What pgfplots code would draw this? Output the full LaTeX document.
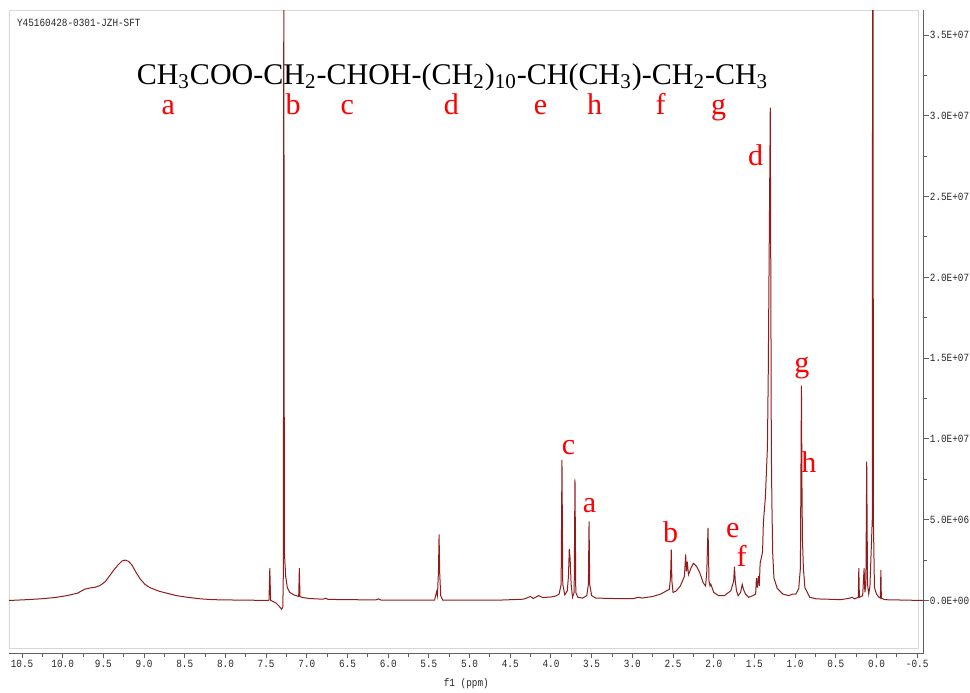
\documentclass[border=0pt]{standalone}
\usepackage{fontspec}
\setmainfont{Liberation Serif}
\newfontfamily\tickfont[FakeStretch=0.85]{Liberation Mono}
\usepackage{pgfplots}
\pgfplotsset{compat=1.18}

\definecolor{spec}{RGB}{145,28,28}
\definecolor{axgray}{RGB}{95,95,95}
\definecolor{framegray}{RGB}{215,215,215}

% 1H NMR trace, ppm vs intensity (in units of 1E+06)
\pgfplotstableread{
ppm    I
10.66  0.00
10.45  0.05
10.28  0.10
10.10  0.18
9.95   0.30
9.82   0.45
9.73   0.70
9.66   0.78
9.60   0.82
9.54   0.93
9.48   1.15
9.42   1.55
9.37   1.90
9.32   2.20
9.27   2.45
9.23   2.50
9.19   2.42
9.15   2.20
9.10   1.75
9.05   1.35
8.99   1.00
8.93   0.80
8.82   0.58
8.72   0.45
8.60   0.30
8.47   0.20
8.30   0.10
8.15   0.05
7.90   0.03
7.70   0.02
7.49   0.00
7.465  0.02
7.455  2.00
7.445  0.02
7.42  -0.05
7.38  -0.15
7.34  -0.35
7.31  -0.55
7.295 -0.40
7.288  2.00
7.283  40.0
7.276  3.00
7.26   1.50
7.24   0.80
7.21   0.50
7.16   0.35
7.12   0.28
7.100  0.25
7.092  2.00
7.084  0.25
7.05   0.18
6.96   0.12
6.80   0.08
6.77   0.14
6.74   0.07
6.50   0.05
6.15   0.04
6.12   0.10
6.09   0.03
5.80   0.02
5.50   0.02
5.43   0.03
5.405  0.55
5.395  0.30
5.382  1.90
5.375  4.10
5.368  1.80
5.355  0.30
5.33   0.02
5.00   0.02
4.60   0.03
4.34   0.08
4.25   0.25
4.22   0.12
4.15   0.30
4.10   0.18
4.00   0.22
3.94   0.28
3.90   0.40
3.875  1.00
3.865  8.70
3.855  1.00
3.83   0.35
3.80   0.60
3.785  1.50
3.775  3.20
3.765  2.60
3.752  1.00
3.735  0.20
3.715  0.50
3.705  7.50
3.695  0.50
3.67   0.20
3.61   0.15
3.56   0.30
3.540  1.00
3.532  4.90
3.524  1.00
3.50   0.30
3.45   0.15
3.20   0.12
2.98   0.12
2.93   0.20
2.88   0.15
2.75   0.25
2.65   0.40
2.58   0.60
2.545  0.70
2.530  1.50
2.522  3.15
2.514  1.20
2.50   0.50
2.46   0.60
2.41   0.90
2.385  1.20
2.36   1.50
2.345  2.85
2.335  1.80
2.325  2.40
2.31   1.60
2.28   2.00
2.25   2.30
2.21   2.10
2.17   1.70
2.13   1.10
2.10   0.90
2.085  1.80
2.070  4.50
2.058  1.20
2.045  0.90
2.035  1.00
2.00   0.50
1.94   0.30
1.87   0.30
1.79   0.60
1.755  1.20
1.745  2.10
1.735  1.20
1.72   0.60
1.70   0.30
1.67   0.50
1.650  1.00
1.635  0.70
1.61   0.40
1.57   0.20
1.52   0.30
1.485  0.40
1.475  1.40
1.465  0.80
1.450  1.50
1.440  0.90
1.43   2.30
1.40   3.00
1.39   4.80
1.365  6.40
1.34   9.50
1.33   14.0
1.305  30.5
1.292  9.30
1.285  6.00
1.275  2.90
1.26   1.40
1.22   0.75
1.15   0.40
1.08   0.30
1.03   0.40
0.99   0.40
0.955  0.75
0.935  2.00
0.922  13.3
0.916  7.40
0.910  3.80
0.898  2.00
0.88   0.80
0.82   0.20
0.74   0.10
0.60   0.08
0.44   0.05
0.32   0.15
0.30   0.20
0.27   0.10
0.224  0.20
0.217  2.00
0.210  0.20
0.17   0.30
0.152  2.00
0.143  0.50
0.130  1.00
0.120  8.60
0.110  1.00
0.095  0.40
0.080  0.90
0.052  5.00
0.045  60.0
0.038  5.00
0.025  0.80
0.00   0.40
-0.03  0.20
-0.048 0.15
-0.054 1.90
-0.060 0.15
-0.10  0.05
-0.58  0.00
}\spectrum

\begin{document}
\begin{tikzpicture}
\begin{axis}[
  scale only axis, width=457pt, height=321.5pt,
  x dir=reverse,
  xmin=-0.58, xmax=10.66, ymin=-3.28, ymax=36.55,
  axis x line*=bottom, axis y line*=right,
  axis line style={axgray, line width=0.6pt},
  every tick/.style={axgray, line width=0.5pt},
  tick align=outside,
  major tick length=2.5pt, minor tick length=1.6pt,
  xtick={-0.5,0,0.5,1,1.5,2,2.5,3,3.5,4,4.5,5,5.5,6,6.5,7,7.5,8,8.5,9,9.5,10,10.5},
  xticklabels={-0.5,0.0,0.5,1.0,1.5,2.0,2.5,3.0,3.5,4.0,4.5,5.0,5.5,6.0,6.5,7.0,7.5,8.0,8.5,9.0,9.5,10.0,10.5},
  minor x tick num=1,
  ytick={0,5,10,15,20,25,30,35},
  yticklabels={0.0E+00,5.0E+06,1.0E+07,1.5E+07,2.0E+07,2.5E+07,3.0E+07,3.5E+07},
  minor y tick num=1,
  ticklabel style={font=\tickfont\fontsize{5.5}{6}\selectfont, text=black!85},
  yticklabel style={anchor=west, inner xsep=0.4pt},
  xticklabel style={inner ysep=0.6pt},
  xlabel={f1 (ppm)},
  xlabel style={font=\tickfont\fontsize{5.5}{6}\selectfont, text=black!85, inner ysep=1pt, yshift=-3.8pt},
  clip=true,
]
\draw[framegray, line width=0.6pt] ([yshift=2.5pt]rel axis cs:0,0) rectangle ([xshift=-2.5pt]rel axis cs:1,1);
\addplot[spec, line width=0.5pt] table[x=ppm, y=I] {\spectrum};

\node[anchor=north west, font=\tickfont\fontsize{5.5}{6}\selectfont, text=black!85]
  at ([xshift=0.5pt,yshift=-1pt]rel axis cs:0,1) {Y45160428-0301-JZH-SFT};

\node[anchor=base, font=\fontsize{15}{18}\selectfont] at (axis cs:5.21,31.97)
  {CH\textsubscript{3}COO-CH\textsubscript{2}-CHOH-(CH\textsubscript{2})\textsubscript{10}-CH(CH\textsubscript{3})-CH\textsubscript{2}-CH\textsubscript{3}};

\begin{scope}[every node/.style={anchor=base, text=red, font=\fontsize{15}{18}\selectfont}]
\node at (axis cs:8.704,30.1) {a};
\node at (axis cs:7.167,30.1) {b};
\node at (axis cs:6.503,30.1) {c};
\node at (axis cs:5.223,30.1) {d};
\node at (axis cs:4.128,30.1) {e};
\node at (axis cs:3.464,30.1) {h};
\node at (axis cs:2.653,30.1) {f};
\node at (axis cs:1.939,30.1) {g};
\node at (axis cs:1.484,26.9) {d};
\node at (axis cs:3.784,9.05) {c};
\node at (axis cs:3.526,5.45) {a};
\node at (axis cs:2.530,3.60) {b};
\node at (axis cs:1.767,3.90) {e};
\node at (axis cs:1.656,2.10) {f};
\node at (axis cs:0.918,14.1) {g};
\node at (axis cs:0.832,7.95) {h};
\end{scope}
\coordinate (tl) at (rel axis cs:0,1);
\coordinate (br) at (rel axis cs:1,0);
\end{axis}
\path (tl) ++(-4.5pt,5pt);
\path (br) ++(0,-19.5pt);
\end{tikzpicture}
\end{document}
